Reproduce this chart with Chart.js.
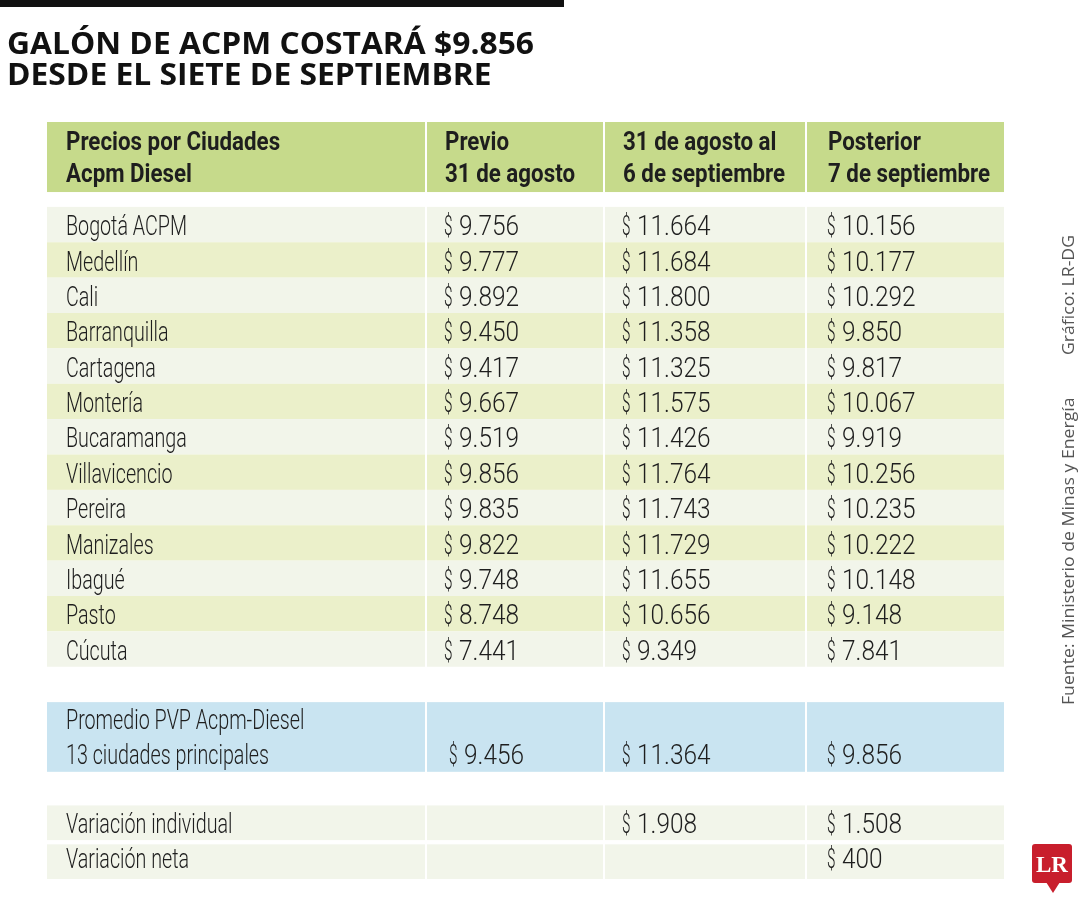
<!DOCTYPE html>
<html>
<head>
<meta charset="utf-8">
<script src="https://cdn.jsdelivr.net/npm/chart.js@4.4.1/dist/chart.umd.min.js"></script>
<style>
  html, body { margin: 0; padding: 0; background: #fff; }
  canvas { display: block; }
</style>
</head>
<body>
<canvas id="tabla" width="1080" height="900"></canvas>
<script>
// datos de la tabla
const titleLines = ['GALÓN DE ACPM COSTARÁ $9.856', 'DESDE EL SIETE DE SEPTIEMBRE'];
const headers = [
  ['Precios por Ciudades', 'Acpm Diesel'],
  ['Previo', '31 de agosto'],
  ['31 de agosto al', '6 de septiembre'],
  ['Posterior', '7 de septiembre']
];
const cities = ['Bogotá ACPM', 'Medellín', 'Cali', 'Barranquilla', 'Cartagena', 'Montería', 'Bucaramanga',
  'Villavicencio', 'Pereira', 'Manizales', 'Ibagué', 'Pasto', 'Cúcuta'];
const previo = [9756, 9777, 9892, 9450, 9417, 9667, 9519, 9856, 9835, 9822, 9748, 8748, 7441];
const periodo = [11664, 11684, 11800, 11358, 11325, 11575, 11426, 11764, 11743, 11729, 11655, 10656, 9349];
const posterior = [10156, 10177, 10292, 9850, 9817, 10067, 9919, 10256, 10235, 10222, 10148, 9148, 7841];
const promedioLabel = ['Promedio PVP Acpm-Diesel', '13 ciudades principales'];
const promedio = [9456, 11364, 9856];
const variacionLabels = ['Variación individual', 'Variación neta'];
const variacionIndividual = [null, 1908, 1508];
const variacionNeta = [null, null, 400];
const fuente = 'Fuente: Ministerio de Minas y Energía';
const credito = 'Gráfico: LR-DG';

// layout (anchos de columna y estilos)
const colWidths = [378, 176, 200, 197];
const colGap = 2;
const textInset = [19, 18, 18, 21];
const numOffset = 14;
const colors = {
  header: '#c6da8b',
  light: '#f2f5ea',
  alt: '#ebf0ca',
  blue: '#c9e4f1',
  text: '#1e1e1e',
  side: '#555555',
  logo: '#c81e2c'
};

const colStart = [];
let acc = 0;
colWidths.forEach((w, i) => { colStart.push(acc); acc += w + colGap; });
const tableWidth = acc - colGap;

function fmt(n) {
  return String(n).replace(/\B(?=(\d{3})+(?!\d))/g, '.');
}

// celda: texto simple o {money: n}
function m(n) { return n === null ? '' : { money: n }; }

// filas en unidades de fila (eje y)
const rows = [];
rows.push({ top: 0, bottom: 1.98, fill: colors.header, bold: true, baselines: [0.79, 1.7], cells: headers });
cities.forEach((c, i) => {
  const top = 2.4 + i;
  rows.push({
    top, bottom: top + 1, fill: i % 2 === 0 ? colors.light : colors.alt, bold: false,
    baselines: [top + 0.8],
    cells: [[c], [m(previo[i])], [m(periodo[i])], [m(posterior[i])]]
  });
});
rows.push({
  top: 16.4, bottom: 18.37, fill: colors.blue, bold: false, baselines: [17.15, 18.14], shift: [0, 5, 0, 0],
  cells: [promedioLabel, ['', m(promedio[0])], ['', m(promedio[1])], ['', m(promedio[2])]]
});
rows.push({
  top: 19.32, bottom: 20.3, fill: colors.light, bold: false, baselines: [20.1],
  cells: [[variacionLabels[0]]].concat(variacionIndividual.map(v => [m(v)]))
});
rows.push({
  top: 20.42, bottom: 21.4, fill: colors.light, bold: false, baselines: [21.08],
  cells: [[variacionLabels[1]]].concat(variacionNeta.map(v => [m(v)]))
});

const bodyFont = '300 28px Roboto';
const headFont = '700 26px Roboto';
const titleFont = '700 31px "Open Sans"';
const sideFont = '400 17px "Open Sans"';

function fitScale(ctx, font, text, width) {
  ctx.font = font;
  return width / ctx.measureText(text).width;
}

function condText(ctx, text, px, py, font, sx) {
  ctx.save();
  ctx.font = font;
  ctx.translate(px, py);
  ctx.scale(sx, 1);
  ctx.fillText(text, 0, 0);
  ctx.restore();
}

const tablePlugin = {
  id: 'tabla',
  beforeDatasetsDraw(chart) {
    const { ctx, scales: { x, y } } = chart;
    const bodySx = fitScale(ctx, bodyFont, 'Bogotá ACPM', 121);
    const numSx = fitScale(ctx, bodyFont, '9.756', 60);
    const dollarSx = fitScale(ctx, bodyFont, '$', 8.5);
    const headSx = fitScale(ctx, headFont, '31 de agosto', 130);

    rows.forEach(r => {
      const y0 = y.getPixelForValue(r.top);
      const y1 = y.getPixelForValue(r.bottom);
      colWidths.forEach((w, i) => {
        const x0 = x.getPixelForValue(colStart[i]);
        const x1 = x.getPixelForValue(colStart[i] + w);
        ctx.fillStyle = r.fill;
        ctx.fillRect(x0, y0, x1 - x0, y1 - y0);
      });
    });

    ctx.fillStyle = colors.text;
    ctx.textBaseline = 'alphabetic';
    ctx.textAlign = 'left';
    rows.forEach(r => {
      r.cells.forEach((lines, i) => {
        const px = x.getPixelForValue(colStart[i]) + textInset[i] + (r.shift ? r.shift[i] : 0);
        lines.forEach((t, k) => {
          if (!t) return;
          const py = y.getPixelForValue(r.baselines[k]);
          if (typeof t === 'object') {
            condText(ctx, '$', px - 1, py, bodyFont, dollarSx);
            condText(ctx, fmt(t.money), px + numOffset, py, bodyFont, numSx);
          } else {
            condText(ctx, t, px, py, r.bold ? headFont : bodyFont, r.bold ? headSx : bodySx);
          }
        });
      });
    });
  },
  afterDraw(chart) {
    const ctx = chart.ctx;
    ctx.save();
    // barra superior
    ctx.fillStyle = '#111';
    ctx.fillRect(0, 0, 564, 7);

    // titulo
    ctx.fillStyle = '#111';
    ctx.textAlign = 'left';
    ctx.textBaseline = 'alphabetic';
    const tSx = fitScale(ctx, titleFont, titleLines[0], 527);
    condText(ctx, titleLines[0], 7, 53.5, titleFont, tSx);
    condText(ctx, titleLines[1], 7, 85, titleFont, tSx);

    // textos laterales
    ctx.fillStyle = colors.side;
    const sSx = fitScale(ctx, sideFont, credito, 120);
    [[credito, 355], [fuente, 705]].forEach(([t, py]) => {
      ctx.save();
      ctx.translate(1074, py);
      ctx.rotate(-Math.PI / 2);
      condText(ctx, t, 0, 0, sideFont, sSx);
      ctx.restore();
    });

    // logo LR
    ctx.fillStyle = colors.logo;
    ctx.beginPath();
    ctx.roundRect(1032, 844, 40, 39, 3);
    ctx.fill();
    ctx.beginPath();
    ctx.moveTo(1046, 882);
    ctx.lineTo(1060, 882);
    ctx.lineTo(1053, 893);
    ctx.closePath();
    ctx.fill();
    ctx.fillStyle = '#fff';
    ctx.textAlign = 'center';
    ctx.font = 'bold 23px "Liberation Serif"';
    ctx.fillText('LR', 1052, 871.5);
    ctx.restore();
  }
};

new Chart(document.getElementById('tabla'), {
  type: 'scatter',
  data: { datasets: [] },
  options: {
    responsive: false,
    animation: false,
    events: [],
    layout: { padding: { left: 47, right: 76, top: 122, bottom: 21 } },
    plugins: { legend: { display: false }, tooltip: { enabled: false } },
    scales: {
      x: { type: 'linear', display: false, min: 0, max: tableWidth },
      y: { type: 'linear', display: false, min: 0, max: 21.4, reverse: true }
    }
  },
  plugins: [tablePlugin]
});
</script>
</body>
</html>
